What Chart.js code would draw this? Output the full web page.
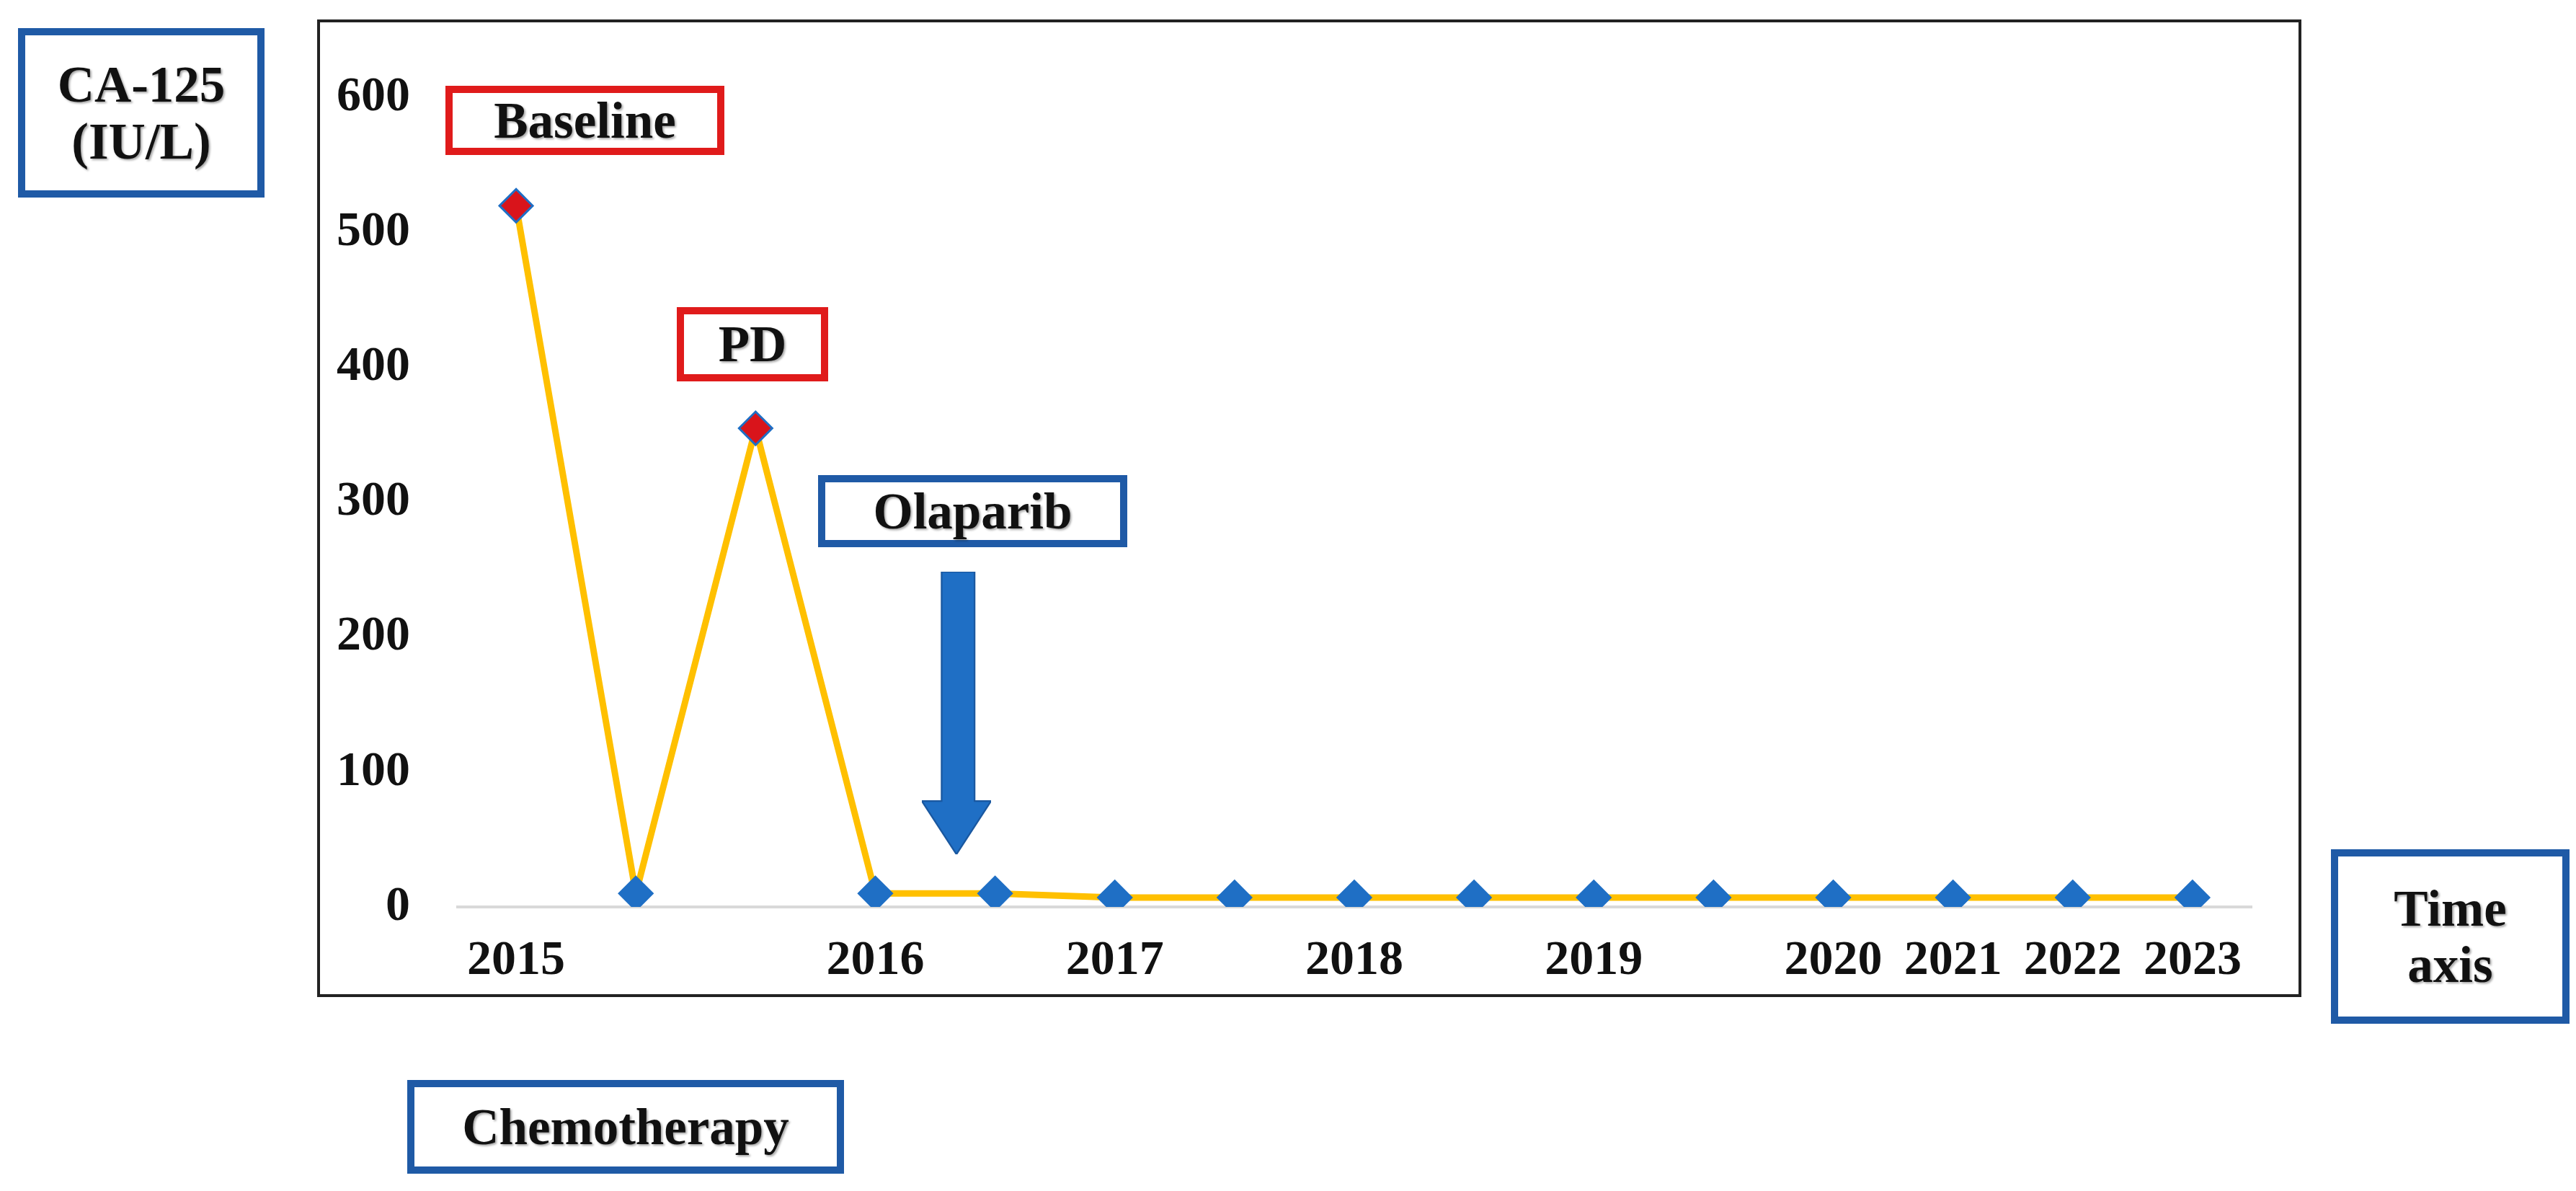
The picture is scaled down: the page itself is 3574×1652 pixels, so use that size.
<!DOCTYPE html>
<html>
<head>
<meta charset="utf-8">
<script src="https://cdn.jsdelivr.net/npm/chart.js@4/dist/chart.umd.min.js"></script>
<style>
  html, body { margin: 0; padding: 0; background: #fff; }
  body { width: 3574px; height: 1652px; position: relative; overflow: hidden; }
  #plotBox { position: absolute; border: 4px solid #222; box-sizing: border-box; }
  .tag { position: absolute; box-sizing: border-box; display: flex; align-items: center; justify-content: center;
         text-align: center; font-family: "Liberation Serif", "DejaVu Serif", serif; font-weight: bold;
         color: #111; background: #fff; line-height: 1.1; text-shadow: 2px 2px 3px rgba(0,0,0,0.35); white-space: nowrap; }
  .blue { border: 10px solid #1f5aa6; }
  .red { border: 10px solid #e01b1b; }
  #arrow { position: absolute; }
</style>
</head>
<body>
<div id="plotBox"><canvas id="chart"></canvas></div>
<svg id="arrow" viewBox="0 0 42 170" preserveAspectRatio="none">
  <polygon points="12,0 32,0 32,138 42,138 21,170 0,138 12,138" fill="#1f6fc5" stroke="#1a58a0" stroke-width="1"/>
</svg>

<script>
// Data
const xLabels = ['2015', '', '', '2016', '', '2017', '', '2018', '', '2019', '', '2020', '2021', '2022', '2023'];
const ca125 = [520, 10, 355, 10, 10, 7, 7, 7, 7, 7, 7, 7, 7, 7, 7];
const highlighted = [true, false, true, false, false, false, false, false, false, false, false, false, false, false, false];
const yTicks = { min: 0, max: 600, step: 100 };

// Layout helpers: positions measured on a 1568-wide copy of the reference
const S = 3574 / 1568;
const px = v => Math.round(v * S) + 'px';

function place(el, x1, y1, x2, y2) {
  el.style.left = px(x1);
  el.style.top = px(y1);
  el.style.width = px(x2 - x1);
  el.style.height = px(y2 - y1);
}

function addTag(text, cls, x1, y1, x2, y2, fontSize) {
  const el = document.createElement('div');
  el.className = 'tag ' + cls;
  el.innerHTML = text;
  el.style.fontSize = px(fontSize);
  place(el, x1, y1, x2, y2);
  document.body.appendChild(el);
}

place(document.getElementById('plotBox'), 193, 12, 1401, 607);
place(document.getElementById('arrow'), 561, 348, 603, 520);

addTag('CA-125<br>(IU/L)', 'blue', 11, 17, 161, 120, 31);
addTag('Baseline', 'red', 271, 52, 441, 94, 31);
addTag('PD', 'red', 412, 187, 504, 232, 31);
addTag('Olaparib', 'blue', 498, 289, 686, 333, 31);
addTag('Time<br>axis', 'blue', 1419, 517, 1564, 623, 31);
addTag('Chemotherapy', 'blue', 248, 657, 514, 714, 31);

const canvas = document.getElementById('chart');
canvas.style.width = px(1208 - 8 / S);
canvas.style.height = px(595 - 8 / S);

const blue = '#1f6fc5';
const red = '#d9141b';
const tickFont = { family: '"Liberation Serif", "DejaVu Serif", serif', weight: 'bold', size: Math.round(30 * S) };

new Chart(canvas, {
  type: 'line',
  data: {
    labels: xLabels,
    datasets: [{
      label: 'CA-125',
      data: ca125,
      borderColor: '#ffc000',
      borderWidth: Math.round(4 * S),
      pointStyle: 'rectRot',
      pointRadius: Math.round(10 * S),
      pointBackgroundColor: highlighted.map(h => h ? red : blue),
      pointBorderColor: blue,
      pointBorderWidth: 3,
      tension: 0
    }]
  },
  options: {
    responsive: false,
    animation: false,
    layout: { padding: { left: 0, top: Math.round(40 * S), right: Math.round(28 * S), bottom: 0 } },
    plugins: { legend: { display: false }, tooltip: { enabled: false } },
    scales: {
      x: {
        offset: true,
        grid: { display: false },
        border: { display: false },
        ticks: { font: tickFont, color: '#111', maxRotation: 0, autoSkip: false, padding: Math.round(12 * S) },
        afterFit: scale => { scale.height = Math.round(53 * S); }
      },
      y: {
        min: yTicks.min,
        max: yTicks.max,
        border: { display: false },
        grid: {
          color: ctx => ctx.tick && ctx.tick.value === 0 ? '#d9d9d9' : 'rgba(0,0,0,0)',
          lineWidth: 4,
          drawTicks: false
        },
        ticks: { stepSize: yTicks.step, font: tickFont, color: '#111', padding: Math.round(28 * S) },
        afterFit: scale => { scale.width = Math.round(83 * S); }
      }
    }
  }
});
</script>
</body>
</html>
